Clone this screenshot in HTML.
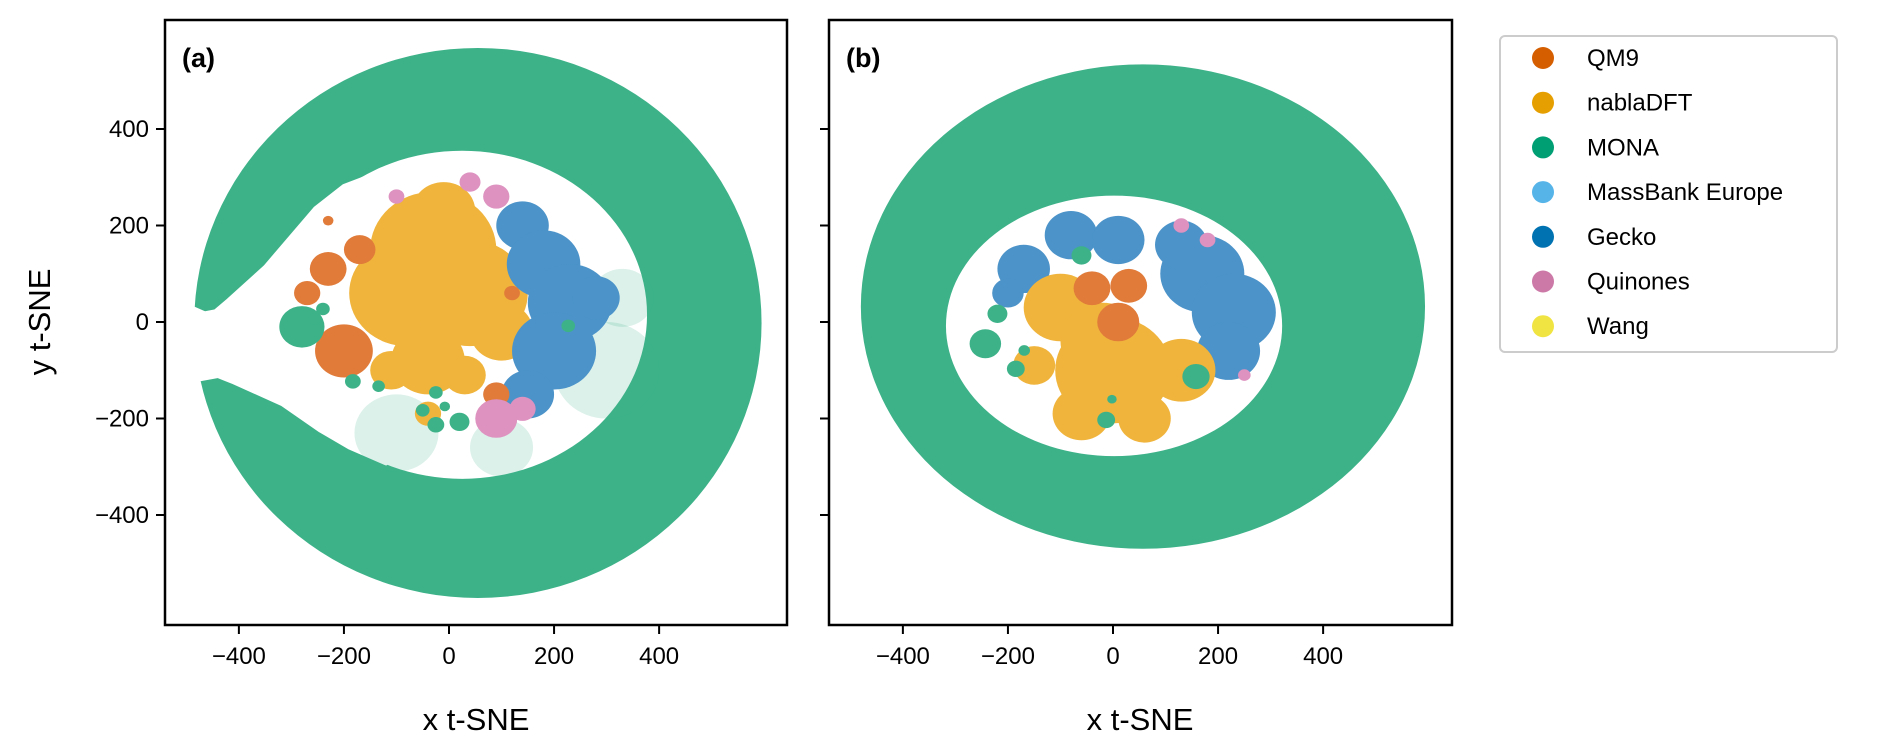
<!DOCTYPE html>
<html><head><meta charset="utf-8">
<style>
body{margin:0;background:#fff;}
svg{display:block;font-family:"Liberation Sans","DejaVu Sans",sans-serif;}
</style></head>
<body>
<svg id="chart" width="1892" height="751" viewBox="0 0 1892 751" xmlns="http://www.w3.org/2000/svg">
  <defs>
    <clipPath id="clipA"><rect x="165" y="20" width="622" height="605"/></clipPath>
    <clipPath id="clipB"><rect x="829" y="20" width="623" height="605"/></clipPath>
  </defs>
  <g id="panelA"></g>
  <g id="panelB"></g>
  <text x="42" y="322" font-size="31" text-anchor="middle" transform="rotate(-90 42 322)" dominant-baseline="middle">y t-SNE</text>
  <text x="476" y="730" font-size="31" text-anchor="middle">x t-SNE</text>
  <text x="1140" y="730" font-size="31" text-anchor="middle">x t-SNE</text>
  <g>
    <rect x="1500" y="36" width="337" height="316" rx="5" fill="#fff" stroke="#cccccc" stroke-width="2"/>
    <g id="legendItems"></g>
  </g>
</svg>
<script>
// ---- data (t-SNE coordinates) ----
const xTicks = [-400, -200, 0, 200, 400];
const yTicks = [400, 200, 0, -200, -400];
const seriesNames = ["QM9", "nablaDFT", "MONA", "MassBank Europe", "Gecko", "Quinones", "Wang"];
const seriesColors = ["#d55e00", "#e69f00", "#009e73", "#56b4e9", "#0072b2", "#cc79a7", "#f0e442"];

// MONA ring: [cx, cy, rx, ry]
const ringOuterA = [55, -2, 540, 570];
const ringInnerA = [25, 15, 352, 340];
const ringGapA = [[-120,315],[-200,282],[-255,235],[-350,114],[-420,45],[-445,22],[-465,18],[-490,30],[-640,40],[-640,-150],[-470,-118],[-440,-112],[-410,-125],[-318,-170],[-245,-225],[-190,-260],[-120,-293]];
const ringOuterB = [57, 32, 537, 502];
const ringInnerB = [2, -8, 320, 270];

// cluster blobs: [x, y, r]
const nablaA = [[-30,150,120],[-80,60,110],[40,60,110],[100,-20,60],[-40,-80,70],[-110,-100,40],[30,-110,40],[-10,230,60],[-40,-190,25]];
const geckoA = [[140,200,50],[180,120,70],[230,40,80],[200,-60,80],[150,-150,50],[280,50,45]];
const qm9A = [[-230,110,35],[-170,150,30],[-270,60,25],[-200,-60,55],[90,-150,25],[-230,210,10],[120,60,15]];
const quinA = [[-100,260,15],[40,290,20],[90,260,25],[90,-200,40],[140,-180,25]];
const monaSpeckA = [[300,-100,100],[330,50,60],[-100,-230,80],[100,-260,60]];
const monaA = [[-280,-10,43],[-256,6,12],[-240,27,13],[-183,-123,15],[-134,-133,12],[-25,-146,13],[-50,-183,13],[-8,-175,10],[-25,-213,16],[20,-207,19],[227,-8,13]];

const nablaB = [[-100,30,70],[0,-100,110],[130,-100,65],[-60,-190,55],[60,-200,50],[-20,-40,80],[-150,-90,40]];
const geckoB = [[-170,110,50],[-80,180,50],[10,170,50],[-200,60,30],[170,100,80],[230,20,80],[220,-60,60],[130,160,50]];
const qm9B = [[-40,70,35],[30,75,35],[10,0,40]];
const quinB = [[130,200,15],[180,170,15],[250,-110,12]];
const monaB = [[-60,138,19],[-220,17,19],[-243,-45,30],[-185,-97,17],[-169,-59,11],[158,-113,26],[-13,-203,17],[-2,-160,9]];

// ---- rendering ----
const NS = "http://www.w3.org/2000/svg";
const kx = 0.5253, ky = 0.4825, y0 = 322;
const fill = {QM9:"#e07b3a", nabla:"#f0b43c", MONA:"#3db289", Gecko:"#4b93c9", Quin:"#dd92c0"};

function mk(tag, attrs, parent){
  const e = document.createElementNS(NS, tag);
  for (const k in attrs) e.setAttribute(k, attrs[k]);
  parent.appendChild(e);
  return e;
}
function ellipsePath(sx, sy, c){
  const cx = sx(c[0]), cy = sy(c[1]), rx = c[2]*kx, ry = c[3]*ky;
  return `M${cx-rx},${cy} a${rx},${ry} 0 1,0 ${2*rx},0 a${rx},${ry} 0 1,0 ${-2*rx},0 Z`;
}
function drawBlobs(g, sx, sy, arr, color, name, op){
  arr.forEach(b => {
    const c = mk("ellipse", {cx: sx(b[0]), cy: sy(b[1]), rx: b[2]*kx, ry: b[2]*ky, fill: color, "fill-opacity": op || 1}, g);
    
    
  });
}
function panel(id, left, width, zeroX, clip, label, outer, inner, gap, sets, showYLabels){
  const g = document.getElementById(id);
  const sx = v => zeroX + v*kx;
  const sy = v => y0 - v*ky;
  const plot = mk("g", {"clip-path": `url(#${clip})`}, g);
  
  
  const ring = mk("path", {d: ellipsePath(sx, sy, outer) + " " + ellipsePath(sx, sy, inner), fill: fill.MONA, "fill-rule": "evenodd"}, plot);
  
  
  if (gap){
    const p = mk("polygon", {points: gap.map(q => sx(q[0]) + "," + sy(q[1])).join(" "), fill: "#fff", "stroke-linejoin": "round", stroke: "#fff", "stroke-width": 4}, plot);
    
    
  }
  sets.forEach(s => drawBlobs(plot, sx, sy, s[0], s[1], s[2], s[3]));
  const fr = mk("rect", {x: left, y: 20, width: width, height: 605, fill: "none", stroke: "#000", "stroke-width": 2.5}, g);
  
  
  xTicks.forEach(t => {
    const tk = mk("line", {x1: sx(t), x2: sx(t), y1: 625, y2: 634, stroke: "#000", "stroke-width": 2}, g);
    
    
    const tl = mk("text", {x: sx(t), y: 664, "font-size": 24, "text-anchor": "middle"}, g);
    tl.textContent = t < 0 ? "\u2212" + Math.abs(t) : String(t);
    
    
  });
  yTicks.forEach(t => {
    const tk = mk("line", {x1: left - 9, x2: left, y1: sy(t), y2: sy(t), stroke: "#000", "stroke-width": 2}, g);
    
    
    if (showYLabels){
      const tl = mk("text", {x: left - 16, y: sy(t) + 8, "font-size": 24, "text-anchor": "end"}, g);
      tl.textContent = t < 0 ? "\u2212" + Math.abs(t) : String(t);
      
      
    }
  });
  const pl = mk("text", {x: left + 17, y: 67, "font-size": 27, "font-weight": "bold"}, g);
  pl.textContent = label;
  
  
}

panel("panelA", 165, 622, 449, "clipA", "(a)", ringOuterA, ringInnerA, ringGapA, [
  [monaSpeckA, fill.MONA, "mona-speckle", 0.18],
  [nablaA, fill.nabla, "nabladft-cluster"],
  [geckoA, fill.Gecko, "gecko-cluster"],
  [qm9A, fill.QM9, "qm9-cluster"],
  [quinA, fill.Quin, "quinones-cluster"],
  [monaA, fill.MONA, "mona-cluster"]
], true);
panel("panelB", 829, 623, 1113, "clipB", "(b)", ringOuterB, ringInnerB, null, [
  [geckoB, fill.Gecko, "gecko-cluster"],
  [nablaB, fill.nabla, "nabladft-cluster"],
  [qm9B, fill.QM9, "qm9-cluster"],
  [quinB, fill.Quin, "quinones-cluster"],
  [monaB, fill.MONA, "mona-cluster"]
], false);

const lg = document.getElementById("legendItems");
seriesNames.forEach((n, i) => {
  const y = 58 + i*44.7;
  const c = mk("circle", {cx: 1543, cy: y, r: 11, fill: seriesColors[i]}, lg);
  
  
  const t = mk("text", {x: 1587, y: y + 8, "font-size": 24}, lg);
  t.textContent = n;
  
  
});
</script>
</body></html>
